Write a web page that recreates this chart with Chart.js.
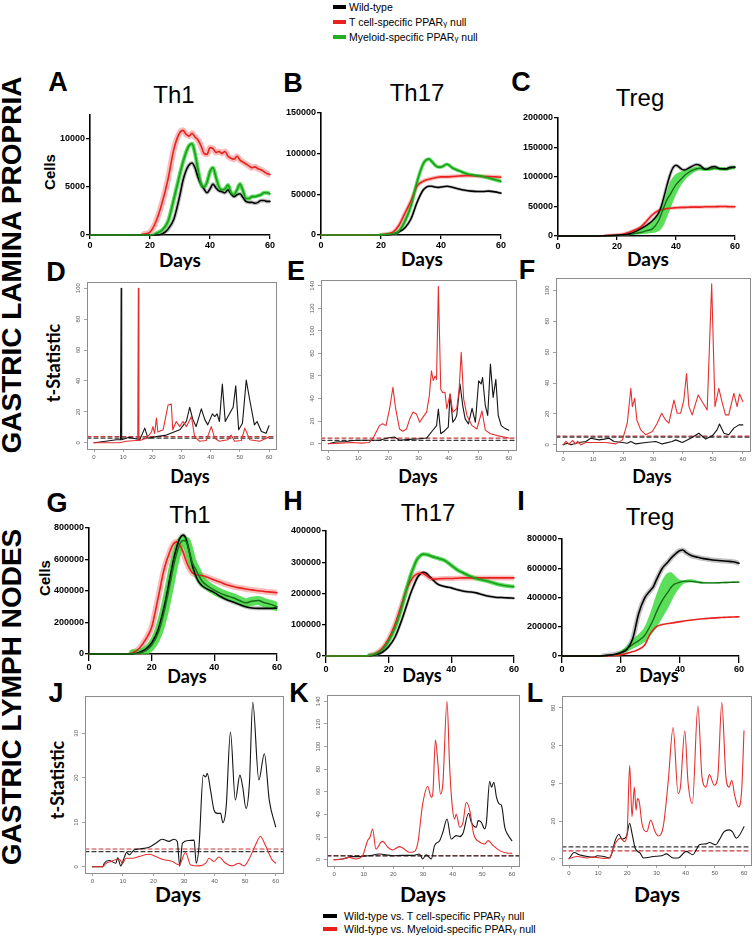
<!DOCTYPE html>
<html>
<head>
<meta charset="utf-8">
<script src="https://cdn.jsdelivr.net/npm/chart.js@4.4.1/dist/chart.umd.min.js"></script>
<style>
  body { margin: 0; background: #fff; width: 755px; height: 940px; position: relative; overflow: hidden;
         font-family: "Liberation Sans", Arial, sans-serif; }
  canvas { position: absolute; }
  .c { position: absolute; transform: translate(-50%, -50%); white-space: nowrap; line-height: 1; }
  .rot { transform: translate(-50%, -50%) rotate(-90deg); }
  .letter { font-weight: bold; font-size: 27px; }
  .ttl { font-size: 24px; }
  .days { font-family: Lato, sans-serif; font-weight: 700; font-size: 18px; }
  .tstat { font-family: Lato, sans-serif; font-weight: 700; font-size: 18px; }
  .cells { font-weight: bold; font-size: 15px; }
  .side { font-weight: bold; font-size: 28px; }
  .leg { position: absolute; font-size: 10.5px; white-space: nowrap; line-height: 1; transform: translateY(-50%); }
  .sw { position: absolute; height: 4px; transform: translateY(-50%); }
  .g { font-size: 8px; }
</style>
</head>
<body>

<!-- top legend -->
<div class="sw" style="left:333px;top:7px;width:13px;background:#000"></div>
<div class="leg" style="left:349px;top:7px">Wild-type</div>
<div class="sw" style="left:333px;top:22px;width:13px;background:#e8201e"></div>
<div class="leg" style="left:349px;top:22px">T cell-specific PPAR<span class="g">γ</span> null</div>
<div class="sw" style="left:333px;top:37px;width:13px;background:#22b022"></div>
<div class="leg" style="left:349px;top:37px">Myeloid-specific PPAR<span class="g">γ</span> null</div>

<!-- side labels -->
<div class="c rot side" style="left:12px;top:265px">GASTRIC LAMINA PROPRIA</div>
<div class="c rot side" style="left:12px;top:697px">GASTRIC LYMPH NODES</div>

<!-- panel letters -->
<div class="c letter" style="left:58px;top:82px">A</div>
<div class="c letter" style="left:293px;top:83px">B</div>
<div class="c letter" style="left:521px;top:82px">C</div>
<div class="c letter" style="left:56px;top:272px">D</div>
<div class="c letter" style="left:296px;top:271px">E</div>
<div class="c letter" style="left:527px;top:270px">F</div>
<div class="c letter" style="left:57px;top:503px">G</div>
<div class="c letter" style="left:293px;top:501px">H</div>
<div class="c letter" style="left:521px;top:501px">I</div>
<div class="c letter" style="left:56px;top:693px">J</div>
<div class="c letter" style="left:299px;top:693px">K</div>
<div class="c letter" style="left:535px;top:693px">L</div>

<!-- titles -->
<div class="c ttl" style="left:174px;top:95px">Th1</div>
<div class="c ttl" style="left:417px;top:93px">Th17</div>
<div class="c ttl" style="left:640px;top:98px">Treg</div>
<div class="c ttl" style="left:190px;top:515px">Th1</div>
<div class="c ttl" style="left:428px;top:513px">Th17</div>
<div class="c ttl" style="left:650px;top:517px">Treg</div>

<!-- axis titles -->
<div class="c days" style="left:180px;top:259px;font-size:19px">Days</div>
<div class="c days" style="left:422px;top:258px;font-size:19px">Days</div>
<div class="c days" style="left:648px;top:258px;font-size:19px">Days</div>
<div class="c days" style="left:190px;top:476px">Days</div>
<div class="c days" style="left:418px;top:476px">Days</div>
<div class="c days" style="left:652px;top:476px">Days</div>
<div class="c days" style="left:187px;top:676px">Days</div>
<div class="c days" style="left:422px;top:675px">Days</div>
<div class="c days" style="left:659px;top:675px">Days</div>
<div class="c days" style="left:178px;top:893px;font-size:21px">Days</div>
<div class="c days" style="left:423px;top:893px;font-size:21px">Days</div>
<div class="c days" style="left:657px;top:893px;font-size:21px">Days</div>
<div class="c rot cells" style="left:49px;top:172px">Cells</div>
<div class="c rot cells" style="left:44px;top:578px">Cells</div>
<div class="c rot tstat" style="left:53px;top:363px">t-Statistic</div>
<div class="c rot tstat" style="left:57px;top:780px">t-Statistic</div>

<!-- bottom legend -->
<div class="sw" style="left:323px;top:916px;width:14px;background:#000"></div>
<div class="leg" style="left:344px;top:916px">Wild-type vs. T cell-specific PPAR<span class="g">γ</span> null</div>
<div class="sw" style="left:323px;top:929px;width:14px;background:#e8201e"></div>
<div class="leg" style="left:344px;top:929px">Wild-type vs. Myeloid-specific PPAR<span class="g">γ</span> null</div>

<script>
// ---- tick labels ----
const xTicksGP = [0, 20, 40, 60];
const xTicksR = [0, 10, 20, 30, 40, 50, 60];

// ---- A: Th1, gastric lamina propria (cells) ----
const aDays = [0, 16, 18, 20, 22, 24, 26, 28, 30, 31, 32, 33, 34, 35, 36, 37, 38, 39, 40, 41, 42, 43, 44, 45, 46, 47, 48, 49, 50, 51, 52, 53, 54, 55, 56, 57, 58, 59, 60];
const aWildType = [0, 0, 0, 0, 0, 100, 600, 1700, 4200, 5700, 6700, 7300, 7500, 7000, 6000, 5300, 4800, 4400, 4800, 5300, 4900, 4600, 4500, 4400, 4700, 4300, 4000, 4200, 4300, 3900, 3500, 3400, 3400, 3300, 3400, 3600, 3600, 3500, 3500];
const aTcellNull = [0, 0, 100, 300, 1400, 3300, 5800, 9000, 10700, 10900, 10500, 10300, 10600, 10200, 9900, 9300, 8500, 8400, 9100, 9000, 8600, 8700, 8500, 8700, 8200, 8000, 7900, 8200, 7800, 7600, 7400, 7200, 7000, 7100, 6900, 6800, 6600, 6400, 6300];
const aMyeloidNull = [0, 0, 0, 0, 150, 500, 1400, 3800, 6400, 7600, 8600, 9300, 9500, 8500, 6800, 5300, 5000, 5500, 6600, 7000, 6000, 5000, 4700, 4800, 5200, 4400, 4200, 4700, 5300, 4600, 3800, 3800, 4000, 4000, 4100, 4200, 4400, 4400, 4300];
const aYTicks = [0, 5000, 10000];

// ---- B: Th17, gastric lamina propria ----
const bDays = [0, 18, 20, 22, 24, 26, 28, 30, 32, 34, 35, 36, 37, 38, 39, 40, 42, 44, 46, 48, 50, 52, 54, 56, 58, 60];
const bWildType = [0, 0, 0, 200, 1000, 4000, 9000, 20000, 40000, 55000, 58500, 60000, 60000, 59000, 58500, 59000, 60000, 58500, 56500, 55000, 54000, 53500, 53500, 54000, 53000, 51500];
const bTcellNull = [0, 0, 300, 1200, 3500, 12000, 27000, 42000, 60000, 66000, 67500, 68500, 69500, 70500, 71000, 71500, 71500, 72000, 72500, 73000, 73000, 72500, 72000, 72000, 71500, 71000];
const bMyeloidNull = [0, 0, 200, 700, 1500, 5000, 17000, 36000, 65000, 87000, 92000, 93500, 90000, 86000, 83500, 83500, 87000, 82000, 79000, 76000, 74000, 73000, 72000, 70000, 68000, 66000];
const bYTicks = [0, 50000, 100000, 150000];

// ---- C: Treg, gastric lamina propria ----
const cDays = [0, 10, 16, 20, 22, 24, 26, 28, 30, 32, 34, 35, 36, 37, 38, 39, 40, 42, 43, 45, 47, 48, 50, 52, 53, 55, 57, 58, 60];
const cWildType = [0, 0, 300, 1200, 2000, 3500, 7000, 12000, 18000, 26000, 38000, 50000, 68000, 87000, 104000, 116000, 120000, 113000, 112000, 117000, 121000, 120000, 113000, 117000, 118000, 114000, 114000, 116000, 117000];
const cTcellNull = [0, 0, 500, 1500, 3000, 6000, 10000, 15000, 25000, 36000, 43000, 44500, 45500, 46500, 47000, 47500, 48000, 48500, 48500, 49000, 49000, 49000, 49500, 49500, 49500, 50000, 50000, 49500, 49500];
const cMyeloidNull = [0, 0, 200, 800, 1500, 2500, 4000, 6000, 9000, 12000, 25000, 37000, 50000, 62000, 70000, 79000, 87000, 98000, 103000, 110000, 114000, 115000, 113000, 114000, 115000, 114000, 113000, 114000, 116000];
const cMyeloidHigh = [0, 0, 300, 1200, 2000, 3500, 6500, 11000, 17000, 25000, 37000, 48000, 62000, 78000, 92000, 100000, 105000, 110000, 112000, 115000, 118000, 118000, 116000, 117000, 118000, 117000, 116000, 117000, 119000];
const cMyeloidLow = [0, 0, 100, 400, 800, 1500, 2000, 3000, 4000, 5000, 8000, 12000, 20000, 32000, 45000, 58000, 70000, 88000, 95000, 104000, 110000, 111000, 110000, 111000, 112000, 111000, 110000, 112000, 113000];
const cYTicks = [0, 50000, 100000, 150000, 200000];

// ---- D: t-statistic, Th1 lamina propria ----
const dWtDays = [0, 4, 7.7, 9.1, 9.3, 9.5, 12, 15.7, 17.4, 18.5, 21.4, 24.8, 27, 29.4, 31.7, 32.8, 33.9, 35, 36.8, 38, 39, 40.6, 41.4, 42.2, 43, 44, 45, 46.5, 47.7, 48.6, 49.6, 50.9, 52.2, 53.4, 55, 55.9, 57.4, 59, 60];
const dWtVsTcell = [0, 1, 2, 2, 100, 2, 3.6, 2, 9.5, 3, 4, 5, 6.7, 8.4, 14, 23, 15, 10.5, 22, 15, 11.6, 18.7, 17, 18.7, 13.8, 38, 13.8, 19, 23, 36.8, 8.4, 12.7, 40.6, 27.7, 11.6, 13.8, 7.3, 6.2, 11];
const dMyDays = [0, 8.8, 11, 14.5, 15, 15.2, 15.4, 15.7, 18, 19.7, 20.2, 20.8, 21.4, 21.9, 23.7, 25.4, 26.5, 27, 28.2, 29.4, 30.5, 31.7, 33.4, 34.5, 36.2, 38.5, 40.2, 41.4, 43, 45.9, 47, 48.2, 50.5, 51.7, 53.4, 56.8, 60];
const dWtVsMyeloid = [0, 0, 1, 1.5, 1.5, 100, 1.5, 1.5, 3, 7, 10.5, 6, 16, 7, 8.4, 24.5, 25, 8.4, 13.8, 10.5, 13.8, 10.5, 17, 4, 1, 1.5, 10.5, 3, 1, 2, 5, 1, 1.5, 9.5, 2, 1, 3.7];
const dThresholds = [3.0, 4.0];
const dYTicks = [0, 20, 40, 60, 80, 100];

// ---- E: t-statistic, Th17 lamina propria ----
const eWtDays = [0, 2.5, 5.8, 9.2, 13.6, 17, 19.8, 22, 23.7, 27, 30.4, 32.7, 34.7, 36, 36.6, 37.4, 38.8, 39.9, 40.5, 41.4, 42.2, 42.7, 43.8, 44.7, 45.5, 46.6, 47.8, 48.9, 50, 50.8, 51.3, 52.2, 53, 53.9, 54.8, 55.7, 56.5, 57.5, 58.5, 60];
const eWtVsTcell = [0, 1.5, 2, 3, 3, 3, 5, 5.9, 3, 3.8, 4.4, 5, 11.7, 16, 30.8, 8.8, 11.7, 14.7, 44, 19, 22, 25, 52.9, 33.8, 22, 17.6, 31.4, 19, 55.8, 52.9, 58.7, 33.8, 25, 70.5, 41, 57, 25, 16, 14, 12];
const eMyDays = [0, 4, 8, 11, 13.6, 14.8, 17, 18.1, 19.2, 20.4, 21.5, 22.4, 23.7, 24.8, 26, 27.1, 28.2, 29.3, 30.4, 31.5, 32.7, 33.6, 34.3, 34.9, 35.5, 36, 36.6, 37.4, 38, 38.8, 39.4, 40.5, 41.4, 42.7, 43.5, 44.2, 45, 46.1, 47.8, 49.4, 51.1, 52.2, 53.9, 57.3, 60];
const eWtVsMyeloid = [0, 0.5, 1, 0.5, 1, 4.4, 16, 17.6, 16, 31, 50, 31, 13, 11, 13, 22, 28, 26.4, 19, 23.5, 28, 42.6, 64.6, 56, 60, 57, 139.5, 48, 45.5, 45.5, 31, 44, 28, 31, 48, 81, 39.6, 25, 16, 13, 29, 12, 8.8, 6.5, 5];
const eThresholds = [2.9, 5.0];
const eYTicks = [0, 20, 40, 60, 80, 100, 120, 140];

// ---- F: t-statistic, Treg lamina propria ----
const fWtDays = [0, 1.4, 2.6, 5.3, 7.6, 9.2, 12, 13.7, 15.3, 17, 19.8, 21.4, 22.6, 24.2, 27.6, 30.9, 33.1, 36.4, 37.6, 39.8, 42.6, 45.3, 47.6, 49.8, 51.4, 52.2, 53.7, 55.3, 57, 58.7, 60];
const fWtVsTcell = [0, 1, 0, 1.5, 2.2, 4.3, 3.2, 3.7, 4.3, 2.2, 1.5, 1, 2.2, 0.6, 1.5, 2.2, 0.6, 2.2, 3.2, 1.5, 4.3, 7.5, 3.7, 5.8, 9.7, 13.5, 7.5, 6.5, 10.8, 12.9, 12.9];
const fMyDays = [0, 0.9, 2, 3.1, 4.2, 4.8, 5.9, 7.6, 10.9, 14.2, 17.6, 19.8, 21.4, 22.6, 23.1, 23.9, 24.6, 25.9, 27.6, 29.8, 31.4, 32.9, 34.2, 35.3, 37, 38.1, 39.2, 40.3, 41.2, 42, 43.1, 45.1, 46.4, 48.1, 49.6, 50.7, 52, 52.9, 54.2, 55.3, 57, 58.1, 58.9, 60];
const fWtVsMyeloid = [0, 2.2, 0.4, 2.8, 0.6, 2.2, 0, 1.5, 1.5, 1.5, 0.6, 3.2, 14, 36.6, 24.7, 30.1, 16.1, 9.7, 6.5, 8.6, 14, 20.4, 16.1, 14, 29, 20.4, 20.4, 29, 46.2, 24.7, 19.4, 32.3, 28, 22.6, 104.3, 24.7, 36.6, 29, 19.4, 19.4, 33.3, 24.7, 32.9, 28];
const fThresholds = [5.0, 5.6];
const fYTicks = [0, 20, 40, 60, 80, 100];

// ---- G: Th1, gastric lymph nodes ----
const gDays = [0, 12, 14, 16, 18, 20, 22, 24, 26, 27, 28, 29, 30, 31, 32, 33, 34, 35, 36, 38, 40, 42, 44, 46, 48, 50, 52, 54, 56, 58, 60];
const gWildType = [0, 0, 2000, 10000, 30000, 70000, 150000, 300000, 500000, 600000, 680000, 735000, 755000, 730000, 650000, 560000, 500000, 460000, 435000, 410000, 390000, 365000, 345000, 330000, 315000, 300000, 292000, 290000, 290000, 290000, 292000];
const gTcellNull = [0, 0, 8000, 35000, 90000, 170000, 350000, 540000, 660000, 700000, 712000, 690000, 650000, 590000, 545000, 515000, 505000, 500000, 498000, 485000, 470000, 455000, 440000, 428000, 420000, 413000, 407000, 402000, 397000, 393000, 389000];
const gMyeloidNull = [0, 0, 1000, 5000, 20000, 55000, 130000, 270000, 460000, 560000, 640000, 700000, 720000, 715000, 650000, 580000, 540000, 500000, 465000, 430000, 405000, 385000, 370000, 357000, 340000, 325000, 335000, 340000, 325000, 315000, 300000];
const gYTicks = [0, 200000, 400000, 600000, 800000];

// ---- H: Th17, gastric lymph nodes ----
const hDays = [0, 12, 14, 16, 18, 20, 22, 24, 26, 27, 28, 29, 30, 31, 32, 33, 34, 35, 36, 38, 40, 42, 44, 46, 48, 50, 52, 54, 56, 58, 60];
const hWildType = [0, 0, 1000, 4000, 12000, 30000, 60000, 110000, 170000, 200000, 225000, 248000, 262000, 268000, 265000, 255000, 245000, 235000, 228000, 222000, 218000, 212000, 207000, 205000, 202000, 196000, 191000, 188000, 187000, 186000, 185000];
const hTcellNull = [0, 0, 2500, 9000, 25000, 55000, 100000, 160000, 220000, 240000, 255000, 262000, 265000, 264000, 258000, 250000, 247000, 246000, 247000, 248000, 248000, 249000, 250000, 250000, 250000, 250000, 250000, 250000, 250000, 250000, 250000];
const hMyeloidNull = [0, 0, 2000, 7000, 20000, 48000, 90000, 150000, 225000, 258000, 285000, 308000, 320000, 326000, 325000, 322000, 318000, 315000, 312000, 305000, 290000, 275000, 265000, 255000, 248000, 243000, 238000, 232000, 227000, 224000, 222000];
const hYTicks = [0, 100000, 200000, 300000, 400000];

// ---- I: Treg, gastric lymph nodes ----
const iDays = [0, 12, 14, 16, 18, 20, 22, 24, 26, 28, 30, 31, 32, 34, 36, 37, 38, 40, 41, 42, 44, 46, 48, 50, 52, 54, 56, 58, 60];
const iWildType = [0, 0, 2000, 6000, 12000, 22000, 45000, 120000, 290000, 395000, 450000, 475000, 520000, 600000, 645000, 670000, 690000, 722000, 725000, 708000, 685000, 675000, 666000, 660000, 655000, 651000, 648000, 644000, 634000];
const iTcellNull = [0, 0, 500, 1500, 4000, 9000, 18000, 30000, 45000, 75000, 155000, 180000, 200000, 215000, 222000, 225000, 228000, 235000, 238000, 241000, 246000, 251000, 255000, 258000, 261000, 263000, 265000, 267000, 268000];
const iMyeloidNull = [0, 0, 1000, 4000, 10000, 25000, 50000, 80000, 105000, 140000, 210000, 250000, 300000, 380000, 440000, 470000, 490000, 505000, 510000, 512000, 510000, 505000, 500000, 500000, 500000, 502000, 503000, 504000, 505000];
const iMyeloidHigh = [0, 0, 1500, 6000, 16000, 38000, 70000, 115000, 150000, 200000, 300000, 360000, 420000, 520000, 570000, 572000, 555000, 520000, 518000, 522000, 525000, 515000, 508000, 505000, 505000, 507000, 508000, 509000, 510000];
const iMyeloidLow = [0, 0, 500, 2000, 5000, 14000, 30000, 50000, 70000, 95000, 140000, 165000, 195000, 260000, 330000, 370000, 410000, 470000, 490000, 500000, 502000, 498000, 495000, 495000, 495000, 497000, 498000, 499000, 500000];
const iYTicks = [0, 200000, 400000, 600000, 800000];

// ---- J: t-statistic, Th1 lymph nodes ----
const jWtDays = [0, 3.4, 3.9, 5.5, 7.7, 8.3, 9.3, 10.4, 11.2, 12.1, 13.7, 15.3, 18.6, 20.8, 22.9, 25.1, 26.7, 27.8, 28.6, 29.5, 31.6, 33.3, 34, 34.9, 36.3, 37.1, 37.6, 38.7, 39.8, 40.9, 42, 42.7, 43.8, 45.2, 46.8, 48.3, 49.2, 50.3, 51.4, 52.5, 54.5, 56.3, 57.9, 60];
const jWtVsTcell = [0, 0, 0.8, 1.4, 0.8, 2, 0.2, 2, 3.2, 2.7, 3.8, 4, 4.4, 5.3, 6.2, 5.7, 6.2, 5.7, 0.1, 5.3, 5.9, 6, 0.8, 4.5, 20.6, 20.2, 21, 17.2, 12.8, 12, 12, 9.9, 13.5, 30.3, 15, 20.6, 18, 13.1, 18.7, 37, 19.5, 25.4, 15, 9];
const jMyDays = [0, 3.4, 4.5, 6.1, 7.5, 8.8, 9.9, 11, 13.2, 15.3, 18.6, 20.8, 22.9, 26.2, 28.4, 30.5, 32.2, 34.9, 37.1, 38.2, 39.8, 41.4, 43.6, 45.8, 47.9, 49.6, 51.2, 53.4, 55, 56.6, 58.8, 60];
const jWtVsMyeloid = [0, 0, 0.8, 1.2, 1.6, 1.7, 0.8, 1.9, 1.9, 2.3, 2.8, 2.3, 1.7, 1.2, 0.4, 3.2, 0.4, 0.2, 0.8, 1.9, 1.2, 2.2, 0.8, 0.2, 0.8, 0.2, 1.6, 4.9, 6.8, 4.9, 1.6, 0.8];
const jThresholds = [3.4, 4.0];
const jYTicks = [0, 10, 20, 30];

// ---- K: t-statistic, Th17 lymph nodes ----
const kWtDays = [0, 2.8, 6.2, 8.5, 11.9, 15.3, 17.5, 19.8, 23.2, 26.6, 28.8, 29.9, 31.1, 32.8, 33.9, 35.6, 36.7, 38.1, 39.5, 41.2, 42.4, 43.5, 45.4, 46.3, 48, 48.6, 49.7, 50.8, 51.4, 52.5, 53.1, 53.9, 54.8, 55.7, 56.5, 57.6, 58.8, 60];
const kWtVsTcell = [0, 0.6, 2.7, 2.7, 3.5, 5, 4.4, 3.5, 3.8, 3.8, 5, 0.6, 4.4, 0.6, 12.4, 16.8, 24.2, 36, 18.3, 21.3, 20.4, 23.3, 41, 33, 28.6, 34.5, 33, 27.2, 33, 69.4, 64, 68.5, 55.2, 49.3, 47.8, 28.6, 21.3, 16.8];
const kMyDays = [0, 2.3, 5.1, 7.3, 9.6, 11.3, 12.1, 13, 14.1, 15.8, 16.4, 18.1, 19.8, 22, 23.2, 25.4, 26.6, 28.2, 29.9, 31.6, 32.8, 33.3, 34.2, 35, 35.9, 36.7, 38.1, 39, 39.9, 40.7, 41.2, 42.4, 43.5, 44.6, 45.8, 47.1, 49.2, 50.8, 52, 53.7, 55.9, 58.2, 60];
const kWtVsMyeloid = [0, 0.3, 2, 0.6, 3.5, 16.8, 19.8, 27, 9.4, 15.4, 16.2, 11, 8.6, 11.5, 10.3, 6.5, 6.8, 13.9, 49.3, 64.7, 55.2, 58, 106, 86, 58, 67, 140, 81.8, 46.4, 36, 40.4, 28.6, 33, 50.8, 43.4, 22.7, 15.4, 13.9, 16.8, 12.4, 8, 5.9, 5.6];
const kThresholds = [3.3, 3.6];
const kYTicks = [0, 20, 40, 60, 80, 100, 120, 140];

// ---- L: t-statistic, Treg lymph nodes ----
const lWtDays = [0, 1.8, 3.5, 6.3, 8.6, 9.7, 12, 14, 15.9, 17.1, 18.2, 19.7, 20.8, 21.6, 22.7, 24.4, 25.5, 28.9, 31.8, 33.4, 35.7, 37.4, 40.2, 42.5, 43.6, 44.7, 47, 48.1, 50.4, 51.5, 53.2, 54.9, 56, 57.4, 58.5, 60];
const lWtVsTcell = [0, 3.3, 2.1, 1.2, 0.9, 1.6, 1.2, 0.4, 10, 13, 10.4, 11.8, 18.8, 13.5, 5.6, 3, 0.4, 1.2, 1.6, 2.6, 0.4, 0.4, 3.9, 2.1, 4.7, 7.4, 7.9, 8.6, 7.4, 10, 14.4, 15.3, 14.4, 10.9, 12.6, 17];
const lMyDays = [0, 2.9, 6.3, 8.6, 12, 13.7, 15.9, 17.6, 19, 19.9, 20.8, 21.6, 22.4, 23, 23.5, 24.1, 25, 26.7, 28, 29.5, 30.6, 32.3, 34, 35.7, 37.4, 38.2, 39.7, 40.8, 42.3, 44.2, 45.6, 47, 48.1, 49.8, 51, 52.4, 53.8, 54.9, 55.8, 56.8, 58.1, 59.2, 60];
const lWtVsMyeloid = [0, 1.2, 0.4, 0.9, 0.2, 0.4, 8.2, 10.9, 9.1, 12.6, 49.5, 22.3, 38, 25.8, 31.9, 30.2, 18.8, 14.4, 20.5, 14.4, 12.1, 17, 40.7, 69.6, 34.6, 38, 67.9, 40.7, 29.3, 81, 43.3, 38, 44.6, 39, 43.3, 82.8, 43.3, 38, 41.6, 33.7, 27.5, 36.3, 67.9];
const lThresholds = [6.3, 4.2];
const lYTicks = [0, 20, 40, 60, 80];

// ---------------------------------------------------------------
const SANS = "'Liberation Sans', Arial, sans-serif";
const BLACK = '#000000';
const RED = '#e8201e';
const GREEN = '#1f9c1f';
const DARK_GREEN = '#176d17';
const GREEN_BAND = 'rgba(50,215,50,0.8)';
const RED_BAND = 'rgba(245,120,120,0.5)';
const GREY_BAND = 'rgba(120,120,120,0.45)';
const R_RED = '#e53030';
const R_BLACK = '#151515';

// canvas margin round the plot area
const M = { l: 48, r: 10, t: 8, b: 24 };

function makeCanvas(box) {
  const c = document.createElement('canvas');
  const w = box.x1 - box.x0 + M.l + M.r;
  const h = box.y1 - box.y0 + M.t + M.b;
  c.width = w;
  c.height = h;
  c.style.left = (box.x0 - M.l) + 'px';
  c.style.top = (box.y0 - M.t) + 'px';
  c.style.width = w + 'px';
  c.style.height = h + 'px';
  document.body.appendChild(c);
  return c;
}

function pts(days, vals) {
  return days.map((d, i) => ({ x: d, y: vals[i] }));
}

function line(days, vals, color, width, order, extra) {
  return Object.assign({
    data: pts(days, vals),
    borderColor: color,
    backgroundColor: color,
    borderWidth: width,
    order: order,
    pointRadius: 0,
    fill: false,
    cubicInterpolationMode: 'monotone',
    borderJoinStyle: 'round',
    borderCapStyle: 'round',
    clip: 6,
  }, extra || {});
}

// shaded spread drawn as a wide pale stroke, only where the curve is off the baseline
function band(days, vals, color, width, order) {
  const ds = line(days, vals, color, width, order);
  ds.data = ds.data.filter(p => p.y > 0);
  ds.clip = 0;
  return ds;
}

function baseOptions(xMin, xMax, yMin, yMax, xTicks, yTicks) {
  return {
    responsive: false,
    animation: false,
    devicePixelRatio: 1,
    layout: { padding: { left: 0, right: M.r, top: M.t, bottom: 0 }, autoPadding: false },
    plugins: { legend: { display: false }, tooltip: { enabled: false } },
    scales: {
      x: {
        type: 'linear', min: xMin, max: xMax,
        afterBuildTicks: s => { s.ticks = xTicks.map(v => ({ value: v })); },
        afterFit: s => { s.height = M.b; },
      },
      y: {
        type: 'linear', min: yMin, max: yMax,
        afterBuildTicks: s => { s.ticks = yTicks.map(v => ({ value: v })); },
        afterFit: s => { s.width = M.l; },
      },
    },
  };
}

// GraphPad-style cell count panel
function gpChart(box, yMax, yTicks, tickLen, datasets) {
  const opts = baseOptions(0, 60, 0, yMax, xTicksGP, yTicks);
  const font = { family: SANS, size: 9, weight: 'bold' };
  Object.assign(opts.scales.x, {
    grid: { drawOnChartArea: false, drawTicks: true, tickLength: tickLen, color: '#000', lineWidth: 1.3 },
    border: { display: true, color: '#000', width: 1.6 },
    ticks: { color: '#000', font, padding: 1, maxRotation: 0, callback: v => String(v) },
  });
  Object.assign(opts.scales.y, {
    grid: { drawOnChartArea: false, drawTicks: true, tickLength: 4, color: '#000', lineWidth: 1.3 },
    border: { display: true, color: '#000', width: 1.6 },
    ticks: { color: '#000', font, padding: 1, callback: v => String(v) },
  });
  return new Chart(makeCanvas(box), { type: 'line', data: { datasets }, options: opts });
}

// frame and rotated y labels of the R-style panels
const rFrame = {
  id: 'rFrame',
  afterDraw(chart) {
    const a = chart.chartArea;
    const ctx = chart.ctx;
    const ys = chart.scales.y;
    ctx.save();
    ctx.strokeStyle = '#8c8c8c';
    ctx.lineWidth = 1;
    ctx.strokeRect(Math.round(a.left) + 0.5, Math.round(a.top) + 0.5, Math.round(a.right - a.left), Math.round(a.bottom - a.top));
    ctx.fillStyle = '#5a5a5a';
    ctx.font = '6px ' + SANS;
    ctx.textAlign = 'center';
    ctx.textBaseline = 'bottom';
    ys.ticks.forEach(t => {
      ctx.save();
      ctx.translate(a.left - 6, ys.getPixelForValue(t.value));
      ctx.rotate(-Math.PI / 2);
      ctx.fillText(String(t.value), 0, 0);
      ctx.restore();
    });
    ctx.restore();
  },
};

// R-style t-statistic panel
function rChart(box, yr, yTicks, wtDays, wtVals, myDays, myVals, thresholds, smooth) {
  const xr = [-2.4, 62.4];
  const opts = baseOptions(xr[0], xr[1], yr[0], yr[1], xTicksR, yTicks);
  const grid = { drawOnChartArea: false, drawTicks: true, tickLength: 3, color: '#8c8c8c', lineWidth: 0.8 };
  Object.assign(opts.scales.x, {
    grid, border: { display: false },
    ticks: { color: '#5a5a5a', font: { family: SANS, size: 6 }, padding: 2, maxRotation: 0, callback: v => String(v) },
  });
  Object.assign(opts.scales.y, { grid, border: { display: false }, ticks: { display: false } });
  const interp = smooth ? { cubicInterpolationMode: 'monotone' } : { cubicInterpolationMode: 'default', tension: 0 };
  const datasets = [
    line(wtDays, wtVals, R_BLACK, 1.1, 2, interp),
    line(myDays, myVals, R_RED, 1.1, 1, interp),
    line(xr, [thresholds[0], thresholds[0]], '#3a3a3a', 1.2, 3, { borderDash: [4, 3], clip: 0 }),
    line(xr, [thresholds[1], thresholds[1]], '#c83a3a', 1.2, 3, { borderDash: [4, 3], clip: 0 }),
  ];
  return new Chart(makeCanvas(box), { type: 'line', data: { datasets }, options: opts, plugins: [rFrame] });
}

// ---- top row: cell counts in the lamina propria ----
gpChart({ x0: 90, x1: 270, y0: 115, y1: 235 }, 12500, aYTicks, 4, [
  line(aDays, aMyeloidNull, GREEN, 1.6, 1),
  line(aDays, aWildType, BLACK, 1.6, 2),
  line(aDays, aTcellNull, RED, 1.6, 3),
  band(aDays, aMyeloidNull, GREEN_BAND, 4, 4),
  band(aDays, aWildType, GREY_BAND, 4, 5),
  band(aDays, aTcellNull, RED_BAND, 6, 6),
]);

gpChart({ x0: 321, x1: 501, y0: 113, y1: 235 }, 150000, bYTicks, 4, [
  line(bDays, bMyeloidNull, GREEN, 1.6, 1),
  line(bDays, bTcellNull, RED, 1.6, 2),
  line(bDays, bWildType, BLACK, 1.6, 3),
  band(bDays, bMyeloidNull, GREEN_BAND, 3.5, 4),
  band(bDays, bTcellNull, RED_BAND, 4, 5),
  band(bDays, bWildType, GREY_BAND, 3, 6),
]);

gpChart({ x0: 558, x1: 735, y0: 118, y1: 236 }, 200000, cYTicks, 4, [
  line(cDays, cWildType, BLACK, 1.5, 1),
  line(cDays, cMyeloidNull, DARK_GREEN, 1.4, 2),
  line(cDays, cTcellNull, RED, 1.6, 3),
  line(cDays, cMyeloidHigh, GREEN_BAND, 0, 4, { fill: '+1', backgroundColor: GREEN_BAND }),
  line(cDays, cMyeloidLow, GREEN_BAND, 0, 5),
  band(cDays, cTcellNull, RED_BAND, 3.5, 6),
  band(cDays, cWildType, GREY_BAND, 3.5, 7),
]);

// ---- second row: t-statistics in the lamina propria ----
rChart({ x0: 87, x1: 276, y0: 282, y1: 449 }, [-4, 104], dYTicks, dWtDays, dWtVsTcell, dMyDays, dWtVsMyeloid, dThresholds, false);
rChart({ x0: 321, x1: 516, y0: 280, y1: 450 }, [-5.6, 145.1], eYTicks, eWtDays, eWtVsTcell, eMyDays, eWtVsMyeloid, eThresholds, false);
rChart({ x0: 556, x1: 750, y0: 278, y1: 451 }, [-4, 108], fYTicks, fWtDays, fWtVsTcell, fMyDays, fWtVsMyeloid, fThresholds, false);

// ---- third row: cell counts in the lymph nodes ----
gpChart({ x0: 89, x1: 277, y0: 528, y1: 654 }, 800000, gYTicks, 7, [
  line(gDays, gMyeloidNull, DARK_GREEN, 1.5, 1),
  line(gDays, gWildType, BLACK, 1.6, 2),
  line(gDays, gTcellNull, RED, 1.6, 3),
  band(gDays, gMyeloidNull, GREEN_BAND, 9, 4),
  band(gDays, gTcellNull, RED_BAND, 6, 5),
  band(gDays, gWildType, GREY_BAND, 4, 6),
]);

gpChart({ x0: 326, x1: 514, y0: 531, y1: 656 }, 400000, hYTicks, 7, [
  line(hDays, hMyeloidNull, GREEN, 1.6, 1),
  line(hDays, hTcellNull, RED, 1.6, 2),
  line(hDays, hWildType, BLACK, 1.6, 3),
  band(hDays, hMyeloidNull, GREEN_BAND, 4, 4),
  band(hDays, hTcellNull, RED_BAND, 5, 5),
  band(hDays, hWildType, GREY_BAND, 3, 6),
]);

gpChart({ x0: 562, x1: 739, y0: 539, y1: 656 }, 800000, iYTicks, 7, [
  line(iDays, iWildType, BLACK, 1.6, 1),
  line(iDays, iMyeloidNull, DARK_GREEN, 1.4, 2),
  line(iDays, iTcellNull, RED, 1.6, 3),
  line(iDays, iMyeloidHigh, GREEN_BAND, 0, 4, { fill: '+1', backgroundColor: GREEN_BAND }),
  line(iDays, iMyeloidLow, GREEN_BAND, 0, 5),
  band(iDays, iWildType, GREY_BAND, 5, 6),
]);

// ---- bottom row: t-statistics in the lymph nodes ----
rChart({ x0: 85, x1: 283, y0: 696, y1: 873 }, [-1.4, 38.4], jYTicks, jWtDays, jWtVsTcell, jMyDays, jWtVsMyeloid, jThresholds, true);
rChart({ x0: 327, x1: 519, y0: 695, y1: 866 }, [-5.6, 145.6], kYTicks, kWtDays, kWtVsTcell, kMyDays, kWtVsMyeloid, kThresholds, true);
rChart({ x0: 562, x1: 751, y0: 696, y1: 865 }, [-3.3, 86.3], lYTicks, lWtDays, lWtVsTcell, lMyDays, lWtVsMyeloid, lThresholds, true);
</script>
</body>
</html>
